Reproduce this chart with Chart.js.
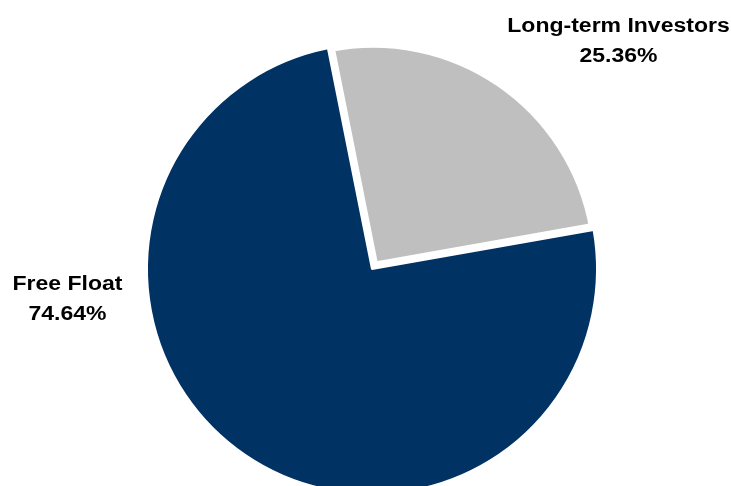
<!DOCTYPE html>
<html>
<head>
<meta charset="utf-8">
<script src="https://cdn.jsdelivr.net/npm/chart.js@4/dist/chart.umd.min.js"></script>
<style>
html,body{margin:0;padding:0;background:#fff;overflow:hidden;}
#wrap{position:absolute;left:0;top:0;width:731px;height:540px;}
</style>
</head>
<body>
<div id="wrap"><canvas id="pie" width="731" height="540"></canvas></div>
<script>
/* Data */
const categories = ['Long-term Investors', 'Free Float'];
const shares = [25.36, 74.64];
const sliceColors = ['#BFBFBF', '#003263'];

/* label anchors (text centre of first line) */
const labelSpots = [{x:618.5, y:26}, {x:67.5, y:284}];

const pieLabels = {
  id:'pieLabels',
  afterDraw(chart){
    const ctx = chart.ctx;
    ctx.font = 'bold 20px "Liberation Sans", Arial, sans-serif';
    ctx.fillStyle = '#000';
    ctx.textAlign = 'center';
    ctx.textBaseline = 'middle';
    categories.forEach((c,i)=>{
      const p = labelSpots[i];
      ctx.save();
      ctx.translate(p.x, p.y);
      ctx.scale(1.15, 1);   // reference text is a bit wide
      ctx.fillText(c, 0, 0);
      ctx.fillText(shares[i].toFixed(2)+'%', 0, 30);
      ctx.restore();
    });
  }
};

new Chart(document.getElementById('pie'), {
  type:'pie',
  data:{
    labels:categories,
    datasets:[{
      data:shares,
      backgroundColor:sliceColors,
      borderColor:'#fff',
      borderWidth:[11,2],   // thick white rim shrinks the grey slice a little
      offset:[8,0],
      radius:225
    }]
  },
  options:{
    responsive:false,
    animation:false,
    rotation:-11.3,
    layout:{padding:{left:13,right:0,top:0,bottom:2}},
    plugins:{legend:{display:false},tooltip:{enabled:false}}
  },
  plugins:[pieLabels]
});
</script>
</body>
</html>
